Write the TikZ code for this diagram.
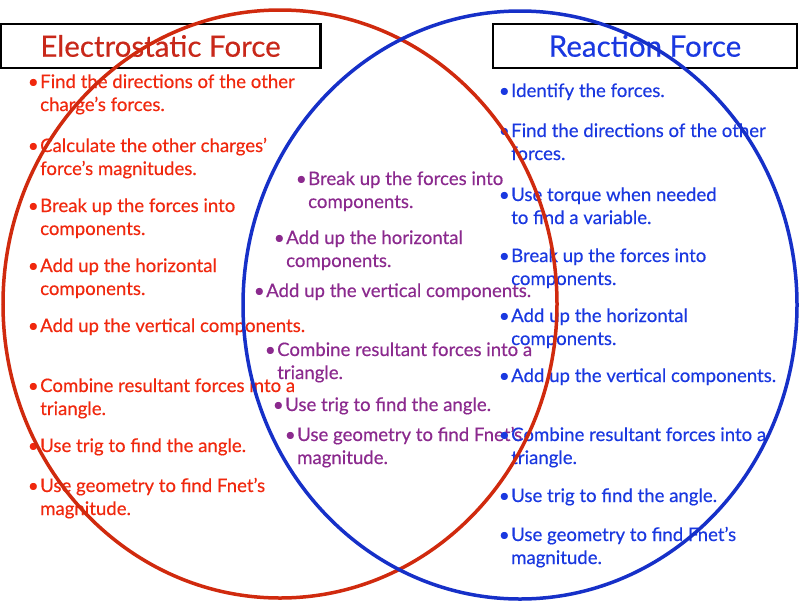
\documentclass[tikz,border=0pt]{standalone}
\usepackage{fontspec}
\setmainfont{Lato}[FakeBold=0.4]
\usetikzlibrary{positioning}
\definecolor{efring}{HTML}{D02A0E}
\definecolor{eftitle}{HTML}{C8281A}
\definecolor{eftext}{HTML}{F0280E}
\definecolor{rfring}{HTML}{1630C8}
\definecolor{rftext}{HTML}{1A38E0}
\definecolor{bothtext}{HTML}{8B2A8E}
\newcommand{\bul}{\llap{\textbullet\hspace{1.5pt}}}
\tikzset{
  headbox/.style={draw=black,line width=2.2pt,minimum height=44pt,inner sep=0pt,
                  font=\fontsize{29.5}{32}\selectfont},
  item/.style  ={anchor=base west,align=left,inner sep=0pt,
                 font=\fontsize{18.6}{23}\selectfont},
  eitem/.style ={item,text=eftext},
  ritem/.style ={item,text=rftext},
  bitem/.style ={item,text=bothtext},
  ring/.style  ={line width=3.5pt}
}
\begin{document}
\begin{tikzpicture}[x=1pt,y=-1pt]
  \useasboundingbox (0,0) rectangle (800,600);
  % titles
  \node[headbox,minimum width=320pt,text=eftitle] (elec) at (160.5,46) {Electrostatic Force};
  \node[headbox,minimum width=304pt,text=rftext] (react) at (645,46) {Reaction Force};
  % electrostatic side (base = last line)
  \node[eitem] (e1) at (40,111) {\bul Find the directions of the other\\charge’s forces.};
  \node[eitem] (e2) at (40,175) {\bul Calculate the other charges’\\force’s magnitudes.};
  \node[eitem] (e3) at (40,235) {\bul Break up the forces into\\components.};
  \node[eitem] (e4) at (40,295) {\bul Add up the horizontal\\components.};
  \node[eitem] (e5) at (40,332) {\bul Add up the vertical components.};
  \node[eitem] (e6) at (40,415) {\bul Combine resultant forces into a\\triangle.};
  \node[eitem] (e7) at (40,452) {\bul Use trig to find the angle.};
  \node[eitem] (e8) at (40,515) {\bul Use geometry to find Fnet’s\\magnitude.};
  % shared steps
  \node[bitem] (m1) at (308,208) {\bul Break up the forces into\\components.};
  \node[bitem] (m2) at (286,267) {\bul Add up the horizontal\\components.};
  \node[bitem] (m3) at (266,297) {\bul Add up the vertical components.};
  \node[bitem] (m4) at (277,379) {\bul Combine resultant forces into a\\triangle.};
  \node[bitem] (m5) at (285,411) {\bul Use trig to find the angle.};
  \node[bitem] (m6) at (297,464) {\bul Use geometry to find Fnet’s\\magnitude.};
  % reaction side
  \node[ritem] (r1) at (511,97)  {\bul Identify the forces.};
  \node[ritem] (r2) at (511,160) {\bul Find the directions of the other\\forces.};
  \node[ritem] (r3) at (511,224) {\bul Use torque when needed\\to find a variable.};
  \node[ritem] (r4) at (511,285) {\bul Break up the forces into\\components.};
  \node[ritem] (r5) at (511,345) {\bul Add up the horizontal\\components.};
  \node[ritem] (r6) at (511,382) {\bul Add up the vertical components.};
  \node[ritem] (r7) at (511,464) {\bul Combine resultant forces into a\\triangle.};
  \node[ritem] (r8) at (511,502) {\bul Use trig to find the angle.};
  \node[ritem] (r9) at (511,564) {\bul Use geometry to find Fnet’s\\magnitude.};
  % the two sets
  \draw[ring,efring] (280,304) ellipse [x radius=277pt,y radius=294pt];
  \draw[ring,rfring] (520,305) ellipse [x radius=277pt,y radius=294pt];
\end{tikzpicture}
\end{document}
